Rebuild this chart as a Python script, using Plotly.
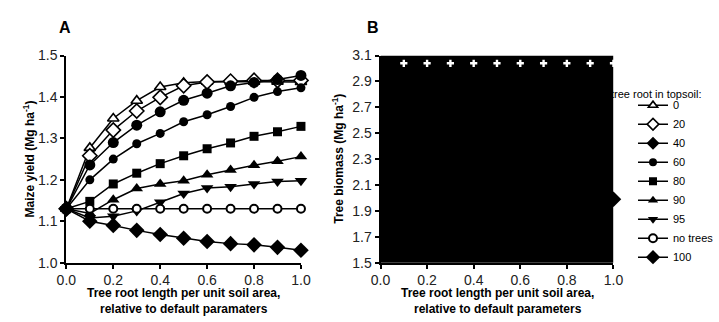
import plotly.graph_objects as go

# ---------------- data ----------------
root_x = [0.0, 0.1, 0.2, 0.3, 0.4, 0.5, 0.6, 0.7, 0.8, 0.9, 1.0]

# Panel A: maize yield (Mg ha-1) by % tree root in topsoil
yield_0 = [1.130, 1.277, 1.348, 1.391, 1.424, 1.434, 1.437, 1.437, 1.437, 1.437, 1.436]
yield_20 = [1.130, 1.258, 1.320, 1.366, 1.399, 1.427, 1.436, 1.438, 1.440, 1.440, 1.440]
yield_40 = [1.130, 1.236, 1.290, 1.332, 1.364, 1.392, 1.409, 1.427, 1.435, 1.442, 1.452]
yield_60 = [1.130, 1.200, 1.250, 1.287, 1.312, 1.340, 1.357, 1.377, 1.399, 1.413, 1.422]
yield_80 = [1.130, 1.148, 1.190, 1.216, 1.239, 1.258, 1.275, 1.289, 1.305, 1.316, 1.329]
yield_90 = [1.130, 1.119, 1.152, 1.179, 1.190, 1.198, 1.212, 1.224, 1.235, 1.245, 1.256]
yield_95 = [1.130, 1.108, 1.112, 1.125, 1.146, 1.167, 1.180, 1.183, 1.190, 1.196, 1.198]
yield_notrees = [1.130, 1.130, 1.130, 1.130, 1.130, 1.130, 1.130, 1.130, 1.130, 1.130, 1.130]
yield_100 = [1.130, 1.100, 1.090, 1.078, 1.068, 1.059, 1.051, 1.046, 1.043, 1.037, 1.030]

# Panel B: tree biomass (Mg ha-1)
biomass_envelope = [3.1, 3.1, 3.1, 3.1, 3.1, 3.1, 3.1, 3.1, 3.1, 3.1, 3.1]
biomass_top_x = [0.1, 0.2, 0.3, 0.4, 0.5, 0.6, 0.7, 0.8, 0.9, 1.0]
biomass_top = [3.04, 3.04, 3.04, 3.04, 3.04, 3.04, 3.04, 3.04, 3.04, 3.04]
biomass_100_x = [1.0]
biomass_100 = [1.99]

series_names = ["0", "20", "40", "60", "80", "90", "95", "no trees", "100"]
y_ticks_a = [1.0, 1.1, 1.2, 1.3, 1.4, 1.5]
y_ticks_b = [1.5, 1.7, 1.9, 2.1, 2.3, 2.5, 2.7, 2.9, 3.1]
x_ticks = [0.0, 0.2, 0.4, 0.6, 0.8, 1.0]

# ---------------- styles ----------------
def mk(symbol, size, fill, lw):
    return dict(symbol=symbol, size=size, color=fill, line=dict(color="black", width=lw))

plot_styles = [
    mk("triangle-up", 10, "white", 1.6),
    mk("diamond", 11, "white", 1.6),
    mk("circle", 11, "black", 0),
    mk("circle", 9, "black", 0),
    mk("square", 9, "black", 0),
    mk("triangle-up", 11, "black", 0),
    mk("triangle-down", 11, "black", 0),
    mk("circle", 8, "white", 2),
    mk("diamond", 12, "black", 0),
]
legend_styles = [
    mk("triangle-up", 8, "white", 1.6),
    mk("diamond", 9, "white", 1.6),
    mk("diamond", 10, "black", 0),
    mk("circle", 8, "black", 0),
    mk("square", 8, "black", 0),
    mk("triangle-up", 9, "black", 0),
    mk("triangle-down", 9, "black", 0),
    mk("circle", 8, "white", 2),
    mk("diamond", 11, "black", 0),
]
series = [yield_0, yield_20, yield_40, yield_60, yield_80, yield_90, yield_95, yield_notrees, yield_100]

fig = go.Figure()

for name, ys, st in zip(series_names, series, plot_styles):
    fig.add_trace(go.Scatter(
        x=root_x, y=ys, name=name, mode="lines+markers",
        line=dict(color="black", width=1.5), marker=st,
        cliponaxis=False, showlegend=False, xaxis="x", yaxis="y",
    ))

# legend-only entries (no data points)
for name, st in zip(series_names, legend_styles):
    fig.add_trace(go.Scatter(
        x=[None], y=[None], name=name, mode="lines+markers",
        line=dict(color="black", width=1.5), marker=st,
        showlegend=True, xaxis="x", yaxis="y",
    ))

# Panel B
fig.add_trace(go.Scatter(
    x=root_x, y=biomass_envelope, mode="lines", fill="tozeroy",
    fillcolor="black", line=dict(color="black", width=0),
    showlegend=False, xaxis="x2", yaxis="y2", hoverinfo="skip",
))
fig.add_trace(go.Scatter(
    x=biomass_top_x, y=biomass_top, mode="markers",
    marker=dict(symbol="cross", size=6, color="white", line=dict(width=0)),
    showlegend=False, cliponaxis=False, xaxis="x2", yaxis="y2",
))
fig.add_trace(go.Scatter(
    x=biomass_100_x, y=biomass_100, mode="markers",
    marker=dict(symbol="diamond", size=12, color="black", line=dict(width=0)),
    showlegend=False, cliponaxis=False, xaxis="x2", yaxis="y2",
))

W, H = 719, 322
ydom = [1 - 268 / H, 1 - 50 / H]
FAM = "Liberation Sans, Arial, sans-serif"
tickfont = dict(family=FAM, size=14, color="#222")
titlefont = dict(family=FAM, size=12, color="black")

axis_common = dict(showgrid=False, zeroline=False, showline=True, linecolor="black",
                   linewidth=2, ticks="outside", tickcolor="black", tickwidth=2,
                   ticklen=4, tickfont=tickfont)

xtitle_a = "<b>Tree root length per unit soil area,<br>relative to default paramaters</b>"
xtitle_b = "<b>Tree root length per unit soil area,<br>relative to default parameters</b>"

def pan(text, x, y, **kw):
    d = dict(text=text, x=x / W, y=1 - y / H, xref="paper", yref="paper",
             showarrow=False, xanchor="center", yanchor="middle")
    d.update(kw)
    return d

fig.update_layout(
    width=W, height=H,
    margin=dict(l=0, r=0, t=0, b=0),
    paper_bgcolor="white", plot_bgcolor="white",
    font=dict(family=FAM, color="black"),
    xaxis=dict(domain=[58.3 / W, 301 / W], range=[0, 1], tickvals=x_ticks,
               ticktext=[f"{v:.1f}" for v in x_ticks], anchor="y", **axis_common),
    yaxis=dict(domain=ydom, range=[1.0, 1.5], tickvals=y_ticks_a,
               ticktext=[f"{v:.1f}" for v in y_ticks_a], anchor="x", **axis_common),
    xaxis2=dict(domain=[383.3 / W, 624.3 / W], range=[0, 1], tickvals=x_ticks,
                ticktext=[f"{v:.1f}" for v in x_ticks], anchor="y2", **axis_common),
    yaxis2=dict(domain=ydom, range=[1.5, 3.1], tickvals=y_ticks_b,
                ticktext=[f"{v:.1f}" for v in y_ticks_b], anchor="x2", **axis_common),
    legend=dict(x=645 / W, y=1 - 87 / H, xanchor="left", yanchor="top",
                font=dict(family=FAM, size=11, color="black"), bgcolor="rgba(0,0,0,0)",
                tracegroupgap=0, itemwidth=30),
    annotations=[
        pan("<b>A</b>", 57, 20.5, font=dict(family=FAM, size=16, color="black")),
        pan("<b>B</b>", 376, 20.5, font=dict(family=FAM, size=16, color="black")),
        pan("<b>Maize yield (Mg ha<sup>-1</sup>)</b>", 20, 159, textangle=-90, font=titlefont),
        pan("<b>Tree biomass (Mg ha<sup>-1</sup>)</b>", 339, 159, textangle=-90, font=titlefont),
        pan(xtitle_a, 180, 308, font=titlefont),
        pan(xtitle_b, 504, 308, font=titlefont),
        pan("tree root in topsoil:", 718, 90, xanchor="right",
            font=dict(family=FAM, size=11, color="black")),
    ],
    showlegend=True,
)

fig.write_html("out.html")
